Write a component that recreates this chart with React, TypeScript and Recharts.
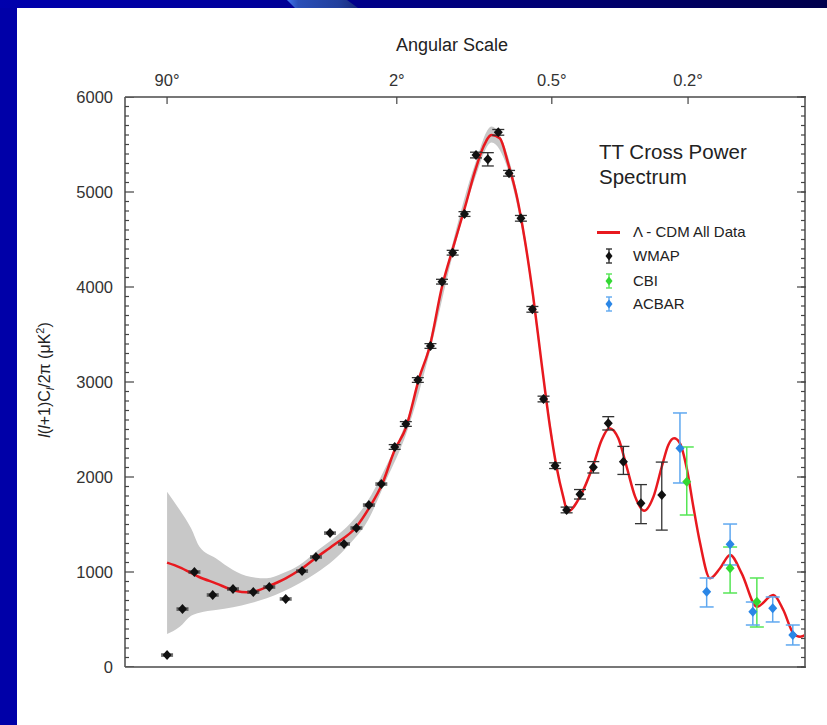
import React from 'react'
import { ComposedChart, Area, Line, Scatter, ErrorBar, XAxis, YAxis } from 'recharts'

// multipole l and band power l(l+1)Cl/2pi in uK^2
const wmapL = [2, 3, 4, 6, 9, 13, 17, 22, 28, 34, 41, 49, 57, 66, 76, 88, 99, 112, 127, 142, 157, 175, 194, 215, 235, 257, 283, 310, 338, 369, 402, 443, 487, 540, 598, 671, 766]
const wmapPower = [126, 610, 1000, 758, 821, 789, 842, 716, 1010, 1158, 1410, 1295, 1463, 1705, 1926, 2316, 2558, 3021, 3379, 4056, 4361, 4768, 5389, 5344, 5628, 5197, 4723, 3765, 2821, 2119, 1653, 1818, 2102, 2565, 2161, 1723, 1810]
const wmapErrLow = [10, 10, 10, 10, 10, 10, 10, 10, 10, 10, 10, 10, 10, 10, 10, 25, 25, 25, 25, 25, 25, 25, 30, 70, 30, 30, 30, 30, 30, 30, 30, 50, 60, 70, 134, 214, 369]
const wmapErrHigh = [10, 10, 10, 10, 10, 10, 10, 10, 10, 10, 10, 10, 10, 10, 10, 25, 25, 25, 25, 25, 25, 25, 30, 70, 30, 30, 30, 30, 30, 30, 30, 50, 60, 70, 161, 197, 347]

const cbiL = [893, 1150, 1334]
const cbiPower = [1950, 1039, 687]
const cbiErrLow = [350, 260, 266]
const cbiErrHigh = [366, 224, 250]

const acbarL = [857, 1005, 1150, 1305, 1453, 1615]
const acbarPower = [2302, 793, 1292, 582, 618, 337]
const acbarErrLow = [365, 161, 218, 140, 144, 105]
const acbarErrHigh = [372, 144, 213, 102, 119, 105]

// best fit Lambda-CDM model
const modelL = [2, 2.8, 4.4, 6.4, 9.4, 11.6, 13.1, 16.9, 22, 27.5, 34, 43, 57, 66, 77, 88, 99, 114, 126, 142, 158, 176, 192, 207, 222, 238, 255, 274, 292, 312, 333, 355, 373, 392, 405, 443, 487, 516, 544, 578, 611, 646, 685, 727, 766, 798, 827, 857, 893, 929, 967, 1025, 1086, 1150, 1227, 1334, 1458, 1537, 1620, 1677, 1725]
const modelPower = [1098, 1049, 950, 881, 803, 786, 793, 853, 934, 1028, 1150, 1284, 1477, 1670, 1934, 2284, 2516, 3056, 3371, 4003, 4424, 4845, 5214, 5477, 5600, 5565, 5302, 4950, 4495, 3898, 3197, 2529, 2108, 1793, 1635, 1793, 2126, 2389, 2513, 2407, 2108, 1793, 1645, 1793, 2108, 2337, 2407, 2355, 2092, 1687, 1302, 934, 1039, 1179, 986, 635, 758, 600, 355, 319, 337]

// cosmic variance band
const bandL = [2, 2.8, 3.7, 4.5, 6.4, 9, 12.3, 16.3, 21, 27, 34, 43, 53, 64, 80, 100, 126, 158, 192, 222, 255, 292, 333, 373]
const bandLow = [347, 424, 540, 572, 600, 628, 670, 723, 793, 881, 986, 1126, 1302, 1512, 1960, 2470, 3310, 4360, 5140, 5520, 5230, 4440, 3160, 2090]
const bandHigh = [1845, 1653, 1460, 1266, 1144, 1021, 950, 934, 986, 1074, 1214, 1355, 1512, 1723, 2110, 2600, 3430, 4490, 5290, 5690, 5370, 4550, 3230, 2125]

const angleTickL = [2, 90, 360, 900]
const angleTickLabels = ['90°', '2°', '0.5°', '0.2°']
const powerTicks = [0, 1000, 2000, 3000, 4000, 5000, 6000]
const powerMinorTicks = Array.from({ length: 61 }, (_, i) => i * 100)

// the figure's x axis runs as l^(1/4)
const toAxis = (l: number) => Math.pow(l, 0.25)
const xDomain: [number, number] = [0.843, 6.448]
const yDomain: [number, number] = [0, 6000]
const angleTicks = angleTickL.map(toAxis)

const points = (ls: number[], ps: number[], lo: number[], hi: number[]) =>
  ls.map((l, i) => ({ u: toAxis(l), power: ps[i], err: [lo[i], hi[i]] }))

const wmapData = points(wmapL, wmapPower, wmapErrLow, wmapErrHigh)
const cbiData = points(cbiL, cbiPower, cbiErrLow, cbiErrHigh)
const acbarData = points(acbarL, acbarPower, acbarErrLow, acbarErrHigh)
const modelData = modelL.map((l, i) => ({ u: toAxis(l), power: modelPower[i] }))
const bandData = bandL.map((l, i) => ({ u: toAxis(l), range: [bandLow[i], bandHigh[i]] }))

// anchor points for the inward tick marks on the left and top edges
const leftTickData = powerMinorTicks.map((v) => ({ u: xDomain[0], power: v }))
const topTickData = angleTicks.map((u) => ({ u, power: yDomain[1] }))

const FONT = '"Liberation Sans", Arial, Helvetica, sans-serif'
const frame = { stroke: '#777', strokeWidth: 2 }
const tickStroke = { stroke: '#444', strokeWidth: 1.2 }
const NoLabel = () => <g />

const leftTickMark = (p: any) => (
  <line x1={p.cx} x2={p.cx + (p.payload.power % 1000 === 0 ? 9 : 4)} y1={p.cy} y2={p.cy} stroke="#444" strokeWidth={1.2} />
)
const topTickMark = (p: any) => (
  <line x1={p.cx} x2={p.cx} y1={p.cy} y2={p.cy + 7} stroke="#444" strokeWidth={1.2} />
)

const diamond = (color: string) => (p: any) => (
  <polygon
    points={`${p.cx},${p.cy - 5} ${p.cx + 4.5},${p.cy} ${p.cx},${p.cy + 5} ${p.cx - 4.5},${p.cy}`}
    fill={color}
  />
)

function LegendMark({ color, bar }: { color: string; bar: string }) {
  return (
    <svg width={14} height={18} style={{ position: 'absolute', left: -7, top: -9 }}>
      <line x1={7} y1={2} x2={7} y2={16} stroke={bar} strokeWidth={1.4} />
      <line x1={4} y1={2} x2={10} y2={2} stroke={bar} strokeWidth={1.4} />
      <line x1={4} y1={16} x2={10} y2={16} stroke={bar} strokeWidth={1.4} />
      <polygon points="7,4.5 10.5,9 7,13.5 3.5,9" fill={color} />
    </svg>
  )
}

const legendItems = [
  { name: 'WMAP', color: '#111', bar: '#333', y: 256 },
  { name: 'CBI', color: '#33d833', bar: '#55e655', y: 281 },
  { name: 'ACBAR', color: '#2a86e6', bar: '#5fa8f0', y: 304 },
]

export default function App() {
  return (
    <div style={{ position: 'fixed', left: 0, top: 0, width: 827, height: 725, background: '#fff', fontFamily: FONT, overflow: 'hidden' }}>
      {/* slide frame */}
      <div style={{ position: 'absolute', left: 0, top: 0, width: 17, height: 725, background: '#0000a8' }} />
      <div style={{ position: 'absolute', left: 0, top: 0, width: 827, height: 8, background: 'linear-gradient(90deg, #0000ad 0%, #00009c 30%, #000088 45%, #000070 70%, #00004c 100%)' }} />
      <div style={{ position: 'absolute', left: 284, top: 0, width: 80, height: 8, background: 'linear-gradient(90deg, #4a86ff 0px, #3a6ae0 6px, #2a4fb8 14px, #223f9c 55px, #16277a 76px)', clipPath: 'polygon(3px 0, 63px 0, 74px 8px, 11px 8px)' }} />

      <div style={{ position: 'absolute', left: 0, top: 0 }}>
        <ComposedChart width={827} height={725} margin={{ top: 30, right: 21, bottom: 57, left: 65 }}>
          <XAxis xAxisId="x" orientation="bottom" height={1} type="number" dataKey="u" domain={xDomain} allowDataOverflow tick={false} tickLine={false} axisLine={frame} />
          <XAxis xAxisId="top" orientation="top" height={67} type="number" dataKey="u" domain={xDomain} allowDataOverflow ticks={angleTicks} interval={0} tickFormatter={(_v: number, i: number) => angleTickLabels[i]} tickLine={false} tickMargin={5} axisLine={frame} tick={{ fontSize: 16.5, fill: '#333', fontFamily: FONT }} />

          <YAxis yAxisId="y" orientation="left" width={60} domain={yDomain} allowDataOverflow ticks={powerTicks} interval={0} tickLine={false} tickMargin={6} axisLine={frame} tick={{ fontSize: 16.5, fill: '#333', fontFamily: FONT }} />
          <YAxis yAxisId="minorR" orientation="right" mirror width={1} domain={yDomain} allowDataOverflow ticks={powerMinorTicks} interval={0} tick={NoLabel} tickSize={4} axisLine={frame} tickLine={tickStroke} />
          <YAxis yAxisId="majorR" orientation="right" mirror width={1} domain={yDomain} allowDataOverflow ticks={powerTicks} interval={0} tick={NoLabel} tickSize={9} axisLine={false} tickLine={tickStroke} />

          <Area data={bandData} xAxisId="x" yAxisId="y" dataKey="range" type="monotone" fill="#c8c8c8" fillOpacity={1} stroke="none" isAnimationActive={false} />
          <Line data={modelData} xAxisId="x" yAxisId="y" dataKey="power" type="monotone" stroke="#e8191f" strokeWidth={2.5} dot={false} isAnimationActive={false} />

          {/* inward ticks on the left and top edges, placed through the chart scales */}
          <Scatter data={leftTickData} xAxisId="x" yAxisId="y" dataKey="power" shape={leftTickMark} legendType="none" isAnimationActive={false} />
          <Scatter data={topTickData} xAxisId="x" yAxisId="y" dataKey="power" shape={topTickMark} legendType="none" isAnimationActive={false} />

          <Scatter data={wmapData} xAxisId="x" yAxisId="y" dataKey="power" shape={diamond('#111')} isAnimationActive={false}>
            <ErrorBar dataKey="err" direction="y" width={6} stroke="#333" strokeWidth={1.3} />
          </Scatter>
          <Scatter data={cbiData} xAxisId="x" yAxisId="y" dataKey="power" shape={diamond('#33d833')} isAnimationActive={false}>
            <ErrorBar dataKey="err" direction="y" width={7} stroke="#55e655" strokeWidth={1.5} />
          </Scatter>
          <Scatter data={acbarData} xAxisId="x" yAxisId="y" dataKey="power" shape={diamond('#2a86e6')} isAnimationActive={false}>
            <ErrorBar dataKey="err" direction="y" width={7} stroke="#5fa8f0" strokeWidth={1.5} />
          </Scatter>
        </ComposedChart>
      </div>

      {/* axis titles */}
      <div style={{ position: 'absolute', left: 452, top: 45, transform: 'translate(-50%, -50%)', fontSize: 18, color: '#222', whiteSpace: 'nowrap' }}>
        Angular Scale
      </div>
      <div style={{ position: 'absolute', left: 45, top: 380, transform: 'translate(-50%, -50%) rotate(-90deg)', fontSize: 16, color: '#222', whiteSpace: 'nowrap', lineHeight: '20px' }}>
        <i>l</i>(<i>l</i>+1)C<sub style={{ fontSize: 11 }}><i>l</i></sub>/2π (μK<sup style={{ fontSize: 11 }}>2</sup>)
      </div>

      {/* legend */}
      <div style={{ position: 'absolute', left: 599, top: 139, fontSize: 20.5, lineHeight: '25px', color: '#222' }}>
        TT Cross Power
        <br />
        Spectrum
      </div>
      <div style={{ position: 'absolute', left: 597, top: 231, width: 23, height: 2.5, background: '#e8191f' }} />
      <div style={{ position: 'absolute', left: 633, top: 223, fontSize: 15, lineHeight: '18px', color: '#222', whiteSpace: 'nowrap' }}>
        Λ - CDM All Data
      </div>
      {legendItems.map((d) => (
        <React.Fragment key={d.name}>
          <div style={{ position: 'absolute', left: 609, top: d.y }}>
            <LegendMark color={d.color} bar={d.bar} />
          </div>
          <div style={{ position: 'absolute', left: 633, top: d.y - 9, fontSize: 15, lineHeight: '18px', color: '#222' }}>
            {d.name}
          </div>
        </React.Fragment>
      ))}
    </div>
  )
}
